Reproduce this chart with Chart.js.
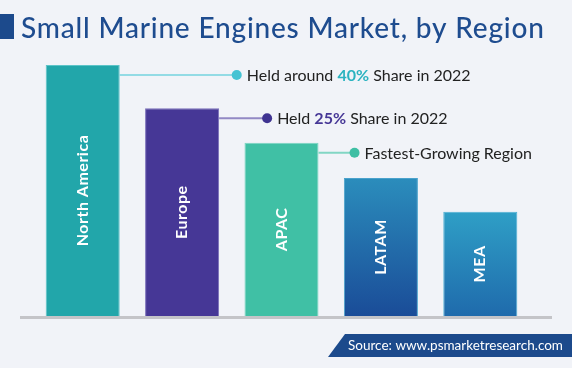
<!DOCTYPE html>
<html>
<head>
<meta charset="utf-8">
<script src="https://cdn.jsdelivr.net/npm/chart.js@4.4.1/dist/chart.umd.min.js"></script>
<style>
  html, body { margin: 0; padding: 0; background: #f1f3f8; }
  #wrap { position: relative; width: 572px; height: 368px; }
</style>
</head>
<body>
<div id="wrap"><canvas id="regions" width="572" height="368"></canvas></div>
<script>
// market size index (NA = 40)
const regions = ['North America', 'Europe', 'APAC', 'LATAM', 'MEA'];
const marketIndex = [40, 33.1, 27.6, 22.0, 16.6];

const calloutRegion = [0, 1, 2];
const calloutPre = ['Held around ', 'Held ', 'Fastest-Growing Region'];
const calloutBold = ['40%', '25%', ''];
const calloutPost = [' Share in 2022', ' Share in 2022', ''];

const titleText = 'Small Marine Engines Market, by Region';
const sourceText = 'Source: www.psmarketresearch.com';

const FONT = 'Lato, "Open Sans", sans-serif';
const NAVY = '#1c4a8c';

const solidColors = ['#22a6aa', '#463796', '#40c0a5', null, null];
const borderColors = ['#5cc4c8', '#7a6fba', '#7ad6c2', '#4aa2cc', '#4db0d4'];
const gradStops = [null, null, null, ['#2b8dbc', '#1a4c98'], ['#2f9fc6', '#1f6bac']];

// per-callout layout: dot distance from bar edge
const dotGap = [117, 48, 36];
const lineCol = ['#93dbe5', '#9289c4', '#82d6c4'];
const dotCol = ['#45c3d3', '#3f3391', '#3ebfa4'];
const boldCol = ['#2bb3c0', '#463796', '#3ebfa4'];

function barFill(context) {
    const i = context.dataIndex;
    if (solidColors[i]) return solidColors[i];
    const chart = context.chart;
    if (!chart.chartArea || !chart.scales.y) return gradStops[i][1];
    const y = chart.scales.y;
    const top = y.getPixelForValue(marketIndex[i]);
    const bottom = y.getPixelForValue(0);
    const g = chart.ctx.createLinearGradient(0, top, 0, bottom);
    g.addColorStop(0, gradStops[i][0]);
    g.addColorStop(1, gradStops[i][1]);
    return g;
}

// draw text stretched with letter spacing to a given width
function fitText(ctx, text, x, y, width) {
    ctx.letterSpacing = '0px';
    const w = ctx.measureText(text).width;
    const sp = (width - w) / (text.length - 1);
    ctx.letterSpacing = sp.toFixed(2) + 'px';
    ctx.fillText(text, x, y);
    ctx.letterSpacing = '0px';
}

const decor = {
    id: 'decor',
    beforeDraw(chart) {
        const ctx = chart.ctx;
        ctx.save();
        ctx.fillStyle = '#f1f3f8';
        ctx.fillRect(0, 0, chart.width, chart.height);

        // title
        ctx.fillStyle = NAVY;
        ctx.fillRect(0, 14, 14, 25);
        ctx.font = '500 28px ' + FONT;
        ctx.textBaseline = 'alphabetic';
        ctx.fillStyle = '#1e4c8f';
        fitText(ctx, titleText, 21, 38, 523);

        // callouts
        const meta = chart.getDatasetMeta(0);
        calloutRegion.forEach((r, k) => {
            const bar = meta.data[r];
            const x0 = bar.x + bar.width / 2;
            const y0 = bar.y + 10;
            const dx = x0 + dotGap[k];
            ctx.strokeStyle = lineCol[k];
            ctx.lineWidth = 2;
            ctx.beginPath();
            ctx.moveTo(x0, y0);
            ctx.lineTo(dx, y0);
            ctx.stroke();
            ctx.fillStyle = dotCol[k];
            ctx.beginPath();
            ctx.arc(dx, y0, 5, 0, Math.PI * 2);
            ctx.fill();

            ctx.textBaseline = 'middle';
            let tx = dx + 10;
            ctx.font = '16px ' + FONT;
            ctx.fillStyle = '#222';
            ctx.fillText(calloutPre[k], tx, y0 + 1);
            tx += ctx.measureText(calloutPre[k]).width;
            if (calloutBold[k]) {
                ctx.font = 'bold 16px ' + FONT;
                ctx.fillStyle = boldCol[k];
                ctx.fillText(calloutBold[k], tx, y0 + 1);
                tx += ctx.measureText(calloutBold[k]).width;
                ctx.font = '16px ' + FONT;
                ctx.fillStyle = '#222';
                ctx.fillText(calloutPost[k], tx, y0 + 1);
            }
        });

        // source banner
        ctx.fillStyle = NAVY;
        ctx.beginPath();
        ctx.moveTo(345, 334);
        ctx.lineTo(572, 334);
        ctx.lineTo(572, 357);
        ctx.lineTo(328, 357);
        ctx.closePath();
        ctx.fill();
        ctx.fillStyle = '#fff';
        ctx.font = '13.5px ' + FONT;
        ctx.textBaseline = 'middle';
        ctx.fillText(sourceText, 348, 346);
        ctx.restore();
    },
    afterDatasetsDraw(chart) {
        const ctx = chart.ctx;
        const meta = chart.getDatasetMeta(0);
        ctx.save();
        // baseline
        ctx.fillStyle = '#c4c4c8';
        ctx.fillRect(20, chart.chartArea.bottom, 532, 3);
        // region names inside bars
        ctx.fillStyle = '#fff';
        ctx.font = 'bold 16px ' + FONT;
        ctx.letterSpacing = '0.5px';
        ctx.textAlign = 'center';
        ctx.textBaseline = 'middle';
        meta.data.forEach((bar, i) => {
            ctx.save();
            ctx.translate(bar.x, (bar.y + bar.base) / 2);
            ctx.rotate(-Math.PI / 2);
            ctx.fillText(regions[i], 0, 0);
            ctx.restore();
        });
        ctx.restore();
    }
};

new Chart(document.getElementById('regions'), {
    type: 'bar',
    data: {
        labels: regions,
        datasets: [{
            data: marketIndex,
            backgroundColor: barFill,
            borderColor: borderColors,
            borderWidth: 1,
            barPercentage: 0.745,
            categoryPercentage: 1
        }]
    },
    options: {
        responsive: false,
        animation: false,
        layout: { padding: { left: 33, right: 42, top: 65, bottom: 52 } },
        plugins: { legend: { display: false }, tooltip: { enabled: false } },
        scales: {
            x: { display: false },
            y: { display: false, min: 0, max: 40 }
        }
    },
    plugins: [decor]
});
</script>
</body>
</html>
